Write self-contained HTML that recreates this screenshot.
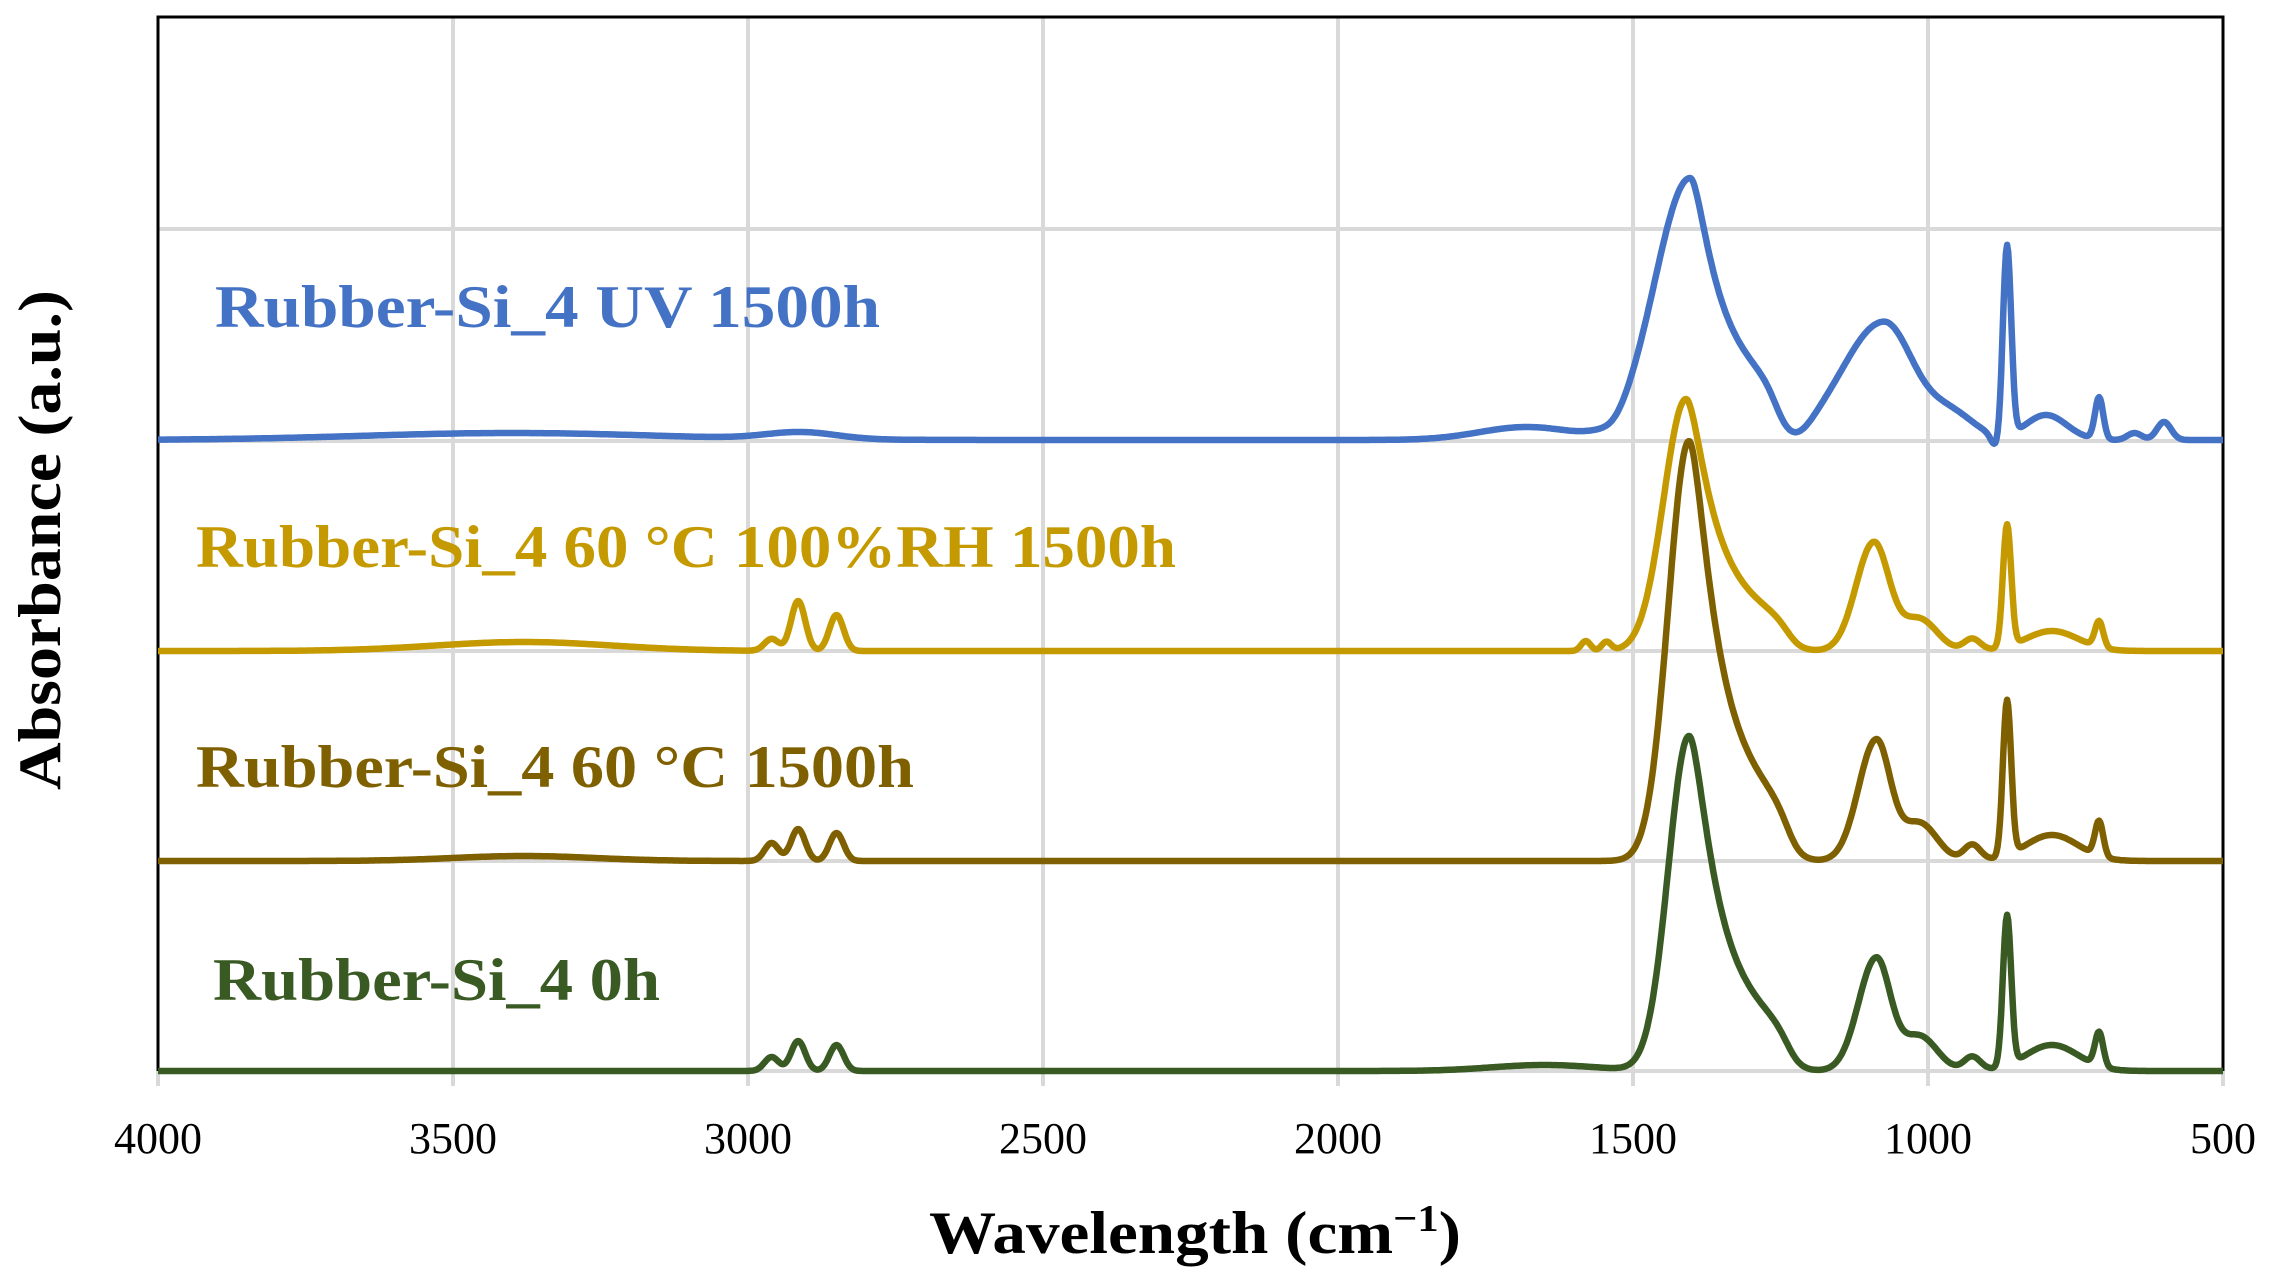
<!DOCTYPE html>
<html><head><meta charset="utf-8"><style>
html,body{margin:0;padding:0;background:#fff;}
svg{display:block;}
text{font-family:"Liberation Serif",serif;}
</style></head><body>
<svg id="s" width="2270" height="1279" viewBox="0 0 2270 1279" xmlns="http://www.w3.org/2000/svg">
<rect width="2270" height="1279" fill="#fff"/>
<g stroke="#d9d9d9" stroke-width="4">
<line x1="453" y1="16" x2="453" y2="1086"/>
<line x1="748" y1="16" x2="748" y2="1086"/>
<line x1="1043" y1="16" x2="1043" y2="1086"/>
<line x1="1338" y1="16" x2="1338" y2="1086"/>
<line x1="1633" y1="16" x2="1633" y2="1086"/>
<line x1="1928" y1="16" x2="1928" y2="1086"/>
<line x1="158" y1="1071" x2="158" y2="1086"/>
<line x1="2223" y1="1071" x2="2223" y2="1086"/>
<line x1="158" y1="229" x2="2223" y2="229"/>
<line x1="158" y1="441" x2="2223" y2="441"/>
<line x1="158" y1="651" x2="2223" y2="651"/>
<line x1="158" y1="861" x2="2223" y2="861"/>
<line x1="158" y1="1071" x2="2223" y2="1071"/>
</g>
<path d="M158 1071 V17 H2223 V1071" fill="none" stroke="#000" stroke-width="3"/>
<g id="curves" fill="none" stroke-width="6.5" stroke-linejoin="round"></g>
<g font-weight="bold" font-size="60">
<text x="215" y="327" fill="#4472C4" textLength="665" lengthAdjust="spacingAndGlyphs">Rubber-Si_4 UV 1500h</text>
<text x="196" y="567" fill="#C59A00" textLength="980" lengthAdjust="spacingAndGlyphs">Rubber-Si_4 60 °C 100%RH 1500h</text>
<text x="196" y="787" fill="#7F6000" textLength="718" lengthAdjust="spacingAndGlyphs">Rubber-Si_4 60 °C 1500h</text>
<text x="213" y="1000" fill="#3A5A24" textLength="447" lengthAdjust="spacingAndGlyphs">Rubber-Si_4 0h</text>
</g>
<g font-size="44" text-anchor="middle" fill="#000">
<text x="158" y="1153">4000</text><text x="453" y="1153">3500</text><text x="748" y="1153">3000</text>
<text x="1043" y="1153">2500</text><text x="1338" y="1153">2000</text><text x="1633" y="1153">1500</text>
<text x="1928" y="1153">1000</text><text x="2223" y="1153">500</text>
</g>
<text x="1195" y="1253" text-anchor="middle" font-size="60" font-weight="bold" textLength="532" lengthAdjust="spacingAndGlyphs">Wavelength (cm<tspan font-size="38" dy="-22">−1</tspan><tspan dy="22">)</tspan></text>
<text transform="translate(60,540) rotate(-90)" text-anchor="middle" font-size="60" font-weight="bold" textLength="500" lengthAdjust="spacingAndGlyphs">Absorbance (a.u.)</text>
</svg>
<script>
function X(w){return 158+(4000-w)*2065/3500;}
function G(w,c,h,s){var d=(w-c)/s;return h*Math.exp(-0.5*d*d);}
function A(w,c,h,sl,sr){var s=w<c?sr:sl;var d=(w-c)/s;return h*Math.exp(-0.5*d*d);}
function main(w,c,h,sl,k,cut){
  if(w>=c){var d=(w-c)/sl;return h*Math.exp(-0.5*d*d);}
  var t=c-w,s=26+k*t,d2=t/s;
  return h*Math.exp(-0.5*d2*d2)/(1+Math.exp(-(w-cut)/12));
}
var series=[
{col:"#3A5A24",base:1071,f:function(w){return main(w,1405,335,35,0.35,1235)+A(w,1088,112,30,24)+G(w,1015,35,30)+G(w,925,14,14)+G(w,866,150,7)+G(w,790,26,45)+G(w,710,34,7)+G(w,2960,14,12)+G(w,2915,30,12)+G(w,2850,26,12)+G(w,1650,6,90);}},
{col:"#7F6000",base:861,f:function(w){return main(w,1405,420,35,0.35,1235)+A(w,1088,120,30,24)+G(w,1015,38,30)+G(w,925,16,14)+G(w,866,155,7)+G(w,790,26,45)+G(w,710,35,7)+G(w,2960,18,12)+G(w,2915,32,12)+G(w,2850,28,12)+G(w,3380,5,120);}},
{col:"#C59A00",base:651,f:function(w){return main(w,1410,252,38,0.35,1235)+A(w,1092,108,30,26)+G(w,1015,32,30)+G(w,925,12,14)+G(w,866,122,7)+G(w,790,20,45)+G(w,710,26,7)+G(w,2915,50,12)+G(w,2850,36,12)+G(w,2960,12,12)+G(w,3380,9,150)+G(w,1580,10,8)+G(w,1545,9,8);}},
{col:"#4472C4",base:440,f:function(w){return main(w,1403,262,60,0.4,1255)+A(w,1075,118,70,50)+G(w,960,25,40)+G(w,866,190,7)+G(w,800,25,35)+G(w,710,42,7)+G(w,650,7,12)+G(w,600,18,12)+G(w,3400,7,250)+G(w,2910,7,60)+G(w,1680,13,80)-G(w,1220,8,22)-G(w,885,12,8)-G(w,1530,6,20);}}
];
var g=document.getElementById("curves"),ns="http://www.w3.org/2000/svg";
series.forEach(function(s){var d="";for(var w=4000;w>=500;w-=2){var y=s.base-s.f(w);d+=(w==4000?"M":"L")+X(w).toFixed(1)+" "+y.toFixed(1);}
var p=document.createElementNS(ns,"path");p.setAttribute("d",d);p.setAttribute("stroke",s.col);g.appendChild(p);});
</script>
</body></html>
